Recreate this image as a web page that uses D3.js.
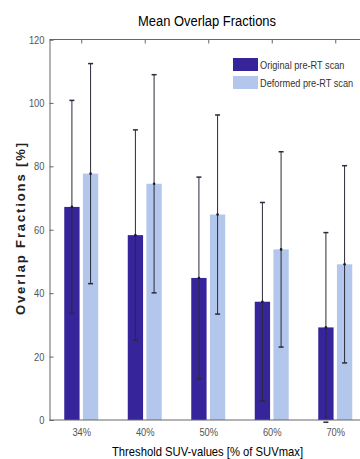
<!DOCTYPE html>
<html>
<head>
<meta charset="utf-8">
<script src="https://cdn.jsdelivr.net/npm/d3@7"></script>
<style>
  body { margin: 0; background: #fff; }
  svg { display: block; }
  text { font-family: "Liberation Sans", Arial, sans-serif; }
</style>
</head>
<body>
<svg id="chart"></svg>
<script>
// threshold categories (x axis)
const categories = ["34%", "40%", "50%", "60%", "70%"];
// series: mean and sd
const seriesNames = ["Original pre-RT scan", "Deformed pre-RT scan"];
const originalMean = [67.2, 58.3, 44.8, 37.3, 29.2];
const originalSD = [33.6, 33.2, 31.8, 31.3, 29.9];
const deformedMean = [77.7, 74.5, 64.8, 53.8, 49.1];
const deformedSD = [34.7, 34.4, 31.4, 30.8, 31.1];
const yTicks = [0, 20, 40, 60, 80, 100, 120];

const width = 360, height = 459;
const colors = ["#35249a", "#b3c6ec"];

const svg = d3.select("#chart").attr("width", width).attr("height", height);

// squeeze text horizontally, the figure uses a narrow face
function narrow(sel, k) {
    sel.each(function () {
        const w = this.getComputedTextLength();
        d3.select(this).attr("textLength", w * k).attr("lengthAdjust", "spacingAndGlyphs");
    });
}

// plot area, the right part runs off the picture like the original
const plotLeft = 49.5, plotTop = 39.5, plotBottom = 420;
const step = 63.5;

const x = d3.scaleBand()
    .domain(categories)
    .range([plotLeft, plotLeft + step * categories.length]);

const xSub = d3.scaleBand()
    .domain([0, 1])
    .range([x.bandwidth() / 2 - 17, x.bandwidth() / 2 + 17])
    .paddingInner(0.18);

const y = d3.scaleLinear().domain([0, 120]).range([plotBottom, plotTop]);

const rows = categories.map((c, i) => ({
    cat: c,
    vals: [
        {s: 0, mean: originalMean[i], sd: originalSD[i]},
        {s: 1, mean: deformedMean[i], sd: deformedSD[i]}
    ]
}));

// bars
const groups = svg.append("g").selectAll("g")
    .data(rows)
    .join("g")
    .attr("transform", d => `translate(${x(d.cat)},0)`);

groups.selectAll("rect")
    .data(d => d.vals)
    .join("rect")
    .attr("x", d => xSub(d.s))
    .attr("width", xSub.bandwidth())
    .attr("y", d => y(d.mean))
    .attr("height", d => y(0) - y(d.mean))
    .attr("fill", d => colors[d.s]);

// error bars
const err = groups.selectAll("g.err")
    .data(d => d.vals)
    .join("g")
    .attr("class", "err")
    .attr("stroke", "#2a2a3a")
    .attr("stroke-width", 1);

const cx = d => xSub(d.s) + xSub.bandwidth() / 2;
err.append("line")
    .attr("x1", cx).attr("x2", cx)
    .attr("y1", d => y(d.mean + d.sd))
    .attr("y2", d => y(Math.max(0, d.mean - d.sd)));
err.append("line")
    .attr("x1", d => cx(d) - 2.5).attr("x2", d => cx(d) + 2.5)
    .attr("y1", d => y(d.mean + d.sd)).attr("y2", d => y(d.mean + d.sd))
    .attr("stroke-width", 1.5);
err.append("line")
    .attr("x1", d => cx(d) - 2.5).attr("x2", d => cx(d) + 2.5)
    .attr("y1", d => y(d.mean - d.sd)).attr("y2", d => y(d.mean - d.sd))
    .attr("stroke-width", 1.5);
err.append("circle")
    .attr("cx", cx).attr("cy", d => y(d.mean)).attr("r", 1.3)
    .attr("fill", "#1a1a2a").attr("stroke", "none");

// axes
const axisColor = "#666";
const yAxis = svg.append("g")
    .attr("transform", `translate(${plotLeft},0)`)
    .call(d3.axisLeft(y).tickValues(yTicks).tickSize(-4).tickPadding(5));
yAxis.select(".domain").attr("stroke", axisColor);
yAxis.selectAll(".tick line").attr("stroke", axisColor);
yAxis.selectAll("text").attr("font-family", null).attr("font-size", 11).attr("fill", "#555")
    .call(narrow, 0.85);

const xCenters = d3.scalePoint().domain(categories)
    .range([x(categories[0]) + x.bandwidth() / 2, x(categories[4]) + x.bandwidth() / 2]);

const xAxis = svg.append("g")
    .attr("transform", `translate(0,${plotBottom})`)
    .call(d3.axisBottom(xCenters).tickSize(0).tickPadding(8));
xAxis.select(".domain").remove();
xAxis.selectAll("text").attr("font-family", null).attr("font-size", 11).attr("fill", "#555")
    .call(narrow, 0.85);

svg.append("line")
    .attr("x1", plotLeft).attr("x2", width)
    .attr("y1", plotBottom).attr("y2", plotBottom)
    .attr("stroke", axisColor);

const topAxis = svg.append("g")
    .attr("transform", `translate(0,${plotTop})`)
    .call(d3.axisTop(xCenters).tickSize(-4).tickFormat(""));
topAxis.select(".domain").remove();
topAxis.selectAll(".tick line").attr("stroke", axisColor);
svg.append("line")
    .attr("x1", plotLeft).attr("x2", width)
    .attr("y1", plotTop).attr("y2", plotTop)
    .attr("stroke", axisColor);

// titles
svg.append("text")
    .attr("x", 207).attr("y", 26)
    .attr("text-anchor", "middle")
    .attr("font-size", 14)
    .attr("textLength", 138).attr("lengthAdjust", "spacingAndGlyphs")
    .text("Mean Overlap Fractions");

svg.append("text")
    .attr("x", 207.5).attr("y", 456)
    .attr("text-anchor", "middle")
    .attr("font-size", 13)
    .attr("textLength", 191).attr("lengthAdjust", "spacingAndGlyphs")
    .text("Threshold SUV-values [% of SUVmax]");

svg.append("text")
    .attr("transform", "translate(25,229) rotate(-90)")
    .attr("text-anchor", "middle")
    .attr("font-weight", "bold")
    .attr("font-size", 13)
    .attr("fill", "#222")
    .attr("textLength", 172).attr("lengthAdjust", "spacing")
    .text("Overlap Fractions [%]");

// legend
const legend = svg.append("g").attr("transform", "translate(233,58)");
const li = legend.selectAll("g")
    .data(seriesNames)
    .join("g")
    .attr("transform", (d, i) => `translate(0,${i * 18})`);
li.append("rect")
    .attr("width", 25).attr("height", 13)
    .attr("fill", (d, i) => colors[i]);
li.append("text")
    .attr("transform", "translate(27,11) scale(0.8,1)")
    .attr("font-size", 11.5)
    .attr("fill", "#333")
    .text(d => d);
</script>
</body>
</html>
